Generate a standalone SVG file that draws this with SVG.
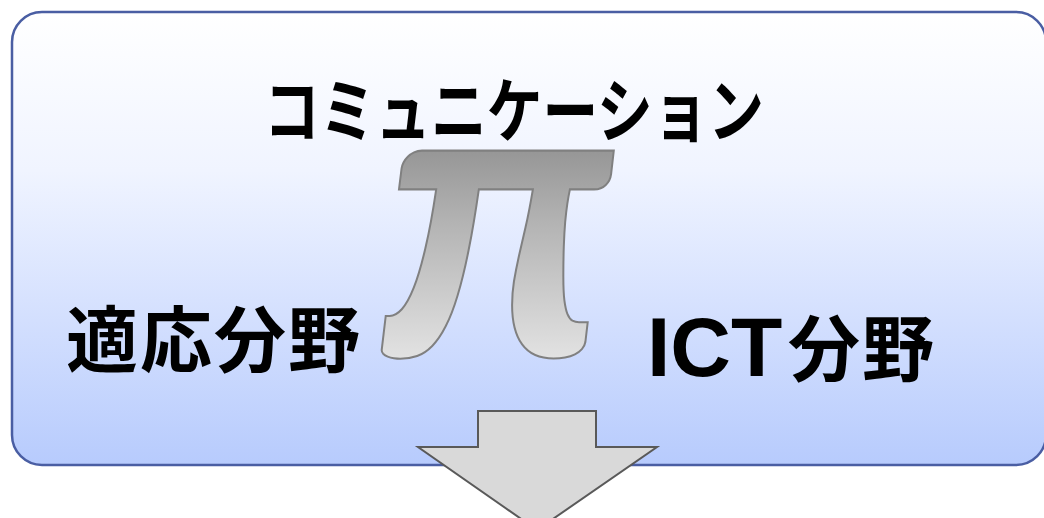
<svg xmlns="http://www.w3.org/2000/svg" width="1044" height="518" viewBox="0 0 1044 518">
<defs>
<linearGradient id="bg" x1="0" y1="0" x2="0" y2="1">
<stop offset="0" stop-color="#ffffff"/>
<stop offset="0.35" stop-color="#f0f4ff"/>
<stop offset="1" stop-color="#b7cbfd"/>
</linearGradient>
<linearGradient id="pig" x1="0" y1="0" x2="0" y2="1">
<stop offset="0" stop-color="#929292"/>
<stop offset="0.22" stop-color="#747474"/>
<stop offset="0.55" stop-color="#b4b4b4"/>
<stop offset="1" stop-color="#ffffff"/>
</linearGradient>
<style>
.jp{font-family:"Noto Sans CJK JP","Noto Sans",sans-serif;font-weight:bold;fill:#000}
.lat{font-family:"Liberation Sans",Arial,sans-serif;font-weight:bold}
</style>
</defs>
<g id="frame">
<rect x="12" y="12" width="1034" height="453" rx="30" ry="30" fill="url(#bg)" stroke="#4a5ea3" stroke-width="2.5"/>
</g>
<g id="title">
<text class="jp" x="264" y="136.5" font-size="70" textLength="500" lengthAdjust="spacingAndGlyphs">コミュニケーション</text>
</g>
<g id="pi">
<text transform="translate(381,357) scale(1.0,1.02)" x="0" y="0" font-family="Lato,sans-serif" font-style="italic" font-weight="bold" font-size="396" fill="url(#pig)" stroke="#808080" stroke-width="2">π</text>
</g>
<g id="left">
<text class="jp" x="66" y="366" font-size="72" letter-spacing="2">適応分野</text>
</g>
<g id="right">
<text class="lat" x="647" y="376" font-size="84">ICT</text>
<text class="jp" x="788" y="375" font-size="72" letter-spacing="2">分野</text>
</g>
<g id="connectors">
<polygon points="478,411 596,411 596,447 657,447 537,530 418,447 478,447" fill="#d9d9d9" stroke="#595959" stroke-width="2"/>
</g>
</svg>
